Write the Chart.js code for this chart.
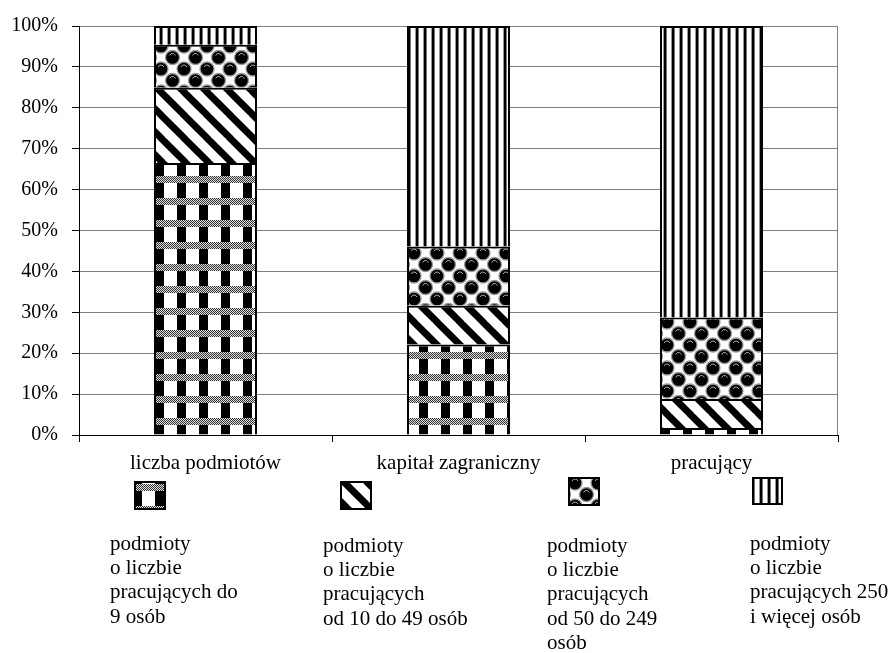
<!DOCTYPE html>
<html>
<head>
<meta charset="utf-8">
<script src="https://cdn.jsdelivr.net/npm/chart.js@4"></script>
<style>
html,body{margin:0;padding:0;background:#fff;}
canvas{display:block;}
</style>
</head>
<body>
<canvas id="c" width="890" height="653"></canvas>
<script>
// ---- data ----
const categories = ['liczba podmiotów', 'kapitał zagraniczny', 'pracujący'];
const seriesDo9 = [66.5, 22.1, 1.7];
const series10to49 = [18.4, 9.5, 7.1];
const series50to249 = [10.5, 14.5, 19.9];
const series250plus = [4.6, 53.9, 71.3];
const yTicks = [0, 10, 20, 30, 40, 50, 60, 70, 80, 90, 100];
const legendLines = [
  ['podmioty', 'o liczbie', 'pracujących do', '9 osób'],
  ['podmioty', 'o liczbie', 'pracujących', 'od 10 do 49 osób'],
  ['podmioty', 'o liczbie', 'pracujących', 'od 50 do 249', 'osób'],
  ['podmioty', 'o liczbie', 'pracujących 250', 'i więcej osób']
];

const FONT = "'Liberation Serif', 'Times New Roman', serif";

// ---- patterns ----
function makeTile(w, h, draw) {
  const c = document.createElement('canvas');
  c.width = w; c.height = h;
  const g = c.getContext('2d');
  g.fillStyle = '#fff';
  g.fillRect(0, 0, w, h);
  draw(g, w, h);
  return document.getElementById('c').getContext('2d').createPattern(c, 'repeat');
}
const patCheck = makeTile(22, 22, (g) => {
  for (let y = 0; y < 7; y++) for (let x = 0; x < 22; x++) {
    g.fillStyle = ((x + y) % 2 === 0) ? '#333' : '#ddd';
    g.fillRect(x, y, 1, 1);
  }
  g.fillStyle = '#000';
  g.fillRect(1, 7, 9, 15);
});
const patDiag = makeTile(23, 23, (g) => {
  g.strokeStyle = '#000';
  g.lineWidth = 7;
  for (let k = -1; k <= 1; k++) {
    g.beginPath();
    g.moveTo(k * 23 - 2, -2);
    g.lineTo(k * 23 + 25, 25);
    g.stroke();
  }
});
const patBalls = makeTile(23, 23, (g) => {
  const pts = [[0, 0], [23, 0], [0, 23], [23, 23], [11.5, 11.5]];
  pts.forEach(([x, y]) => {
    g.beginPath();
    g.arc(x, y, 7, 0, Math.PI * 2);
    g.fillStyle = '#000';
    g.fill();
    g.lineWidth = 1.3;
    g.strokeStyle = '#9a9a9a';
    g.stroke();
    g.beginPath();
    g.arc(x, y - 1, 3, Math.PI * 1.1, Math.PI * 1.9);
    g.strokeStyle = '#aaa';
    g.lineWidth = 1;
    g.stroke();
  });
});
const patVert = makeTile(8, 4, (g) => {
  g.fillStyle = '#000'; g.fillRect(0, 0, 2, 4);
  g.fillStyle = '#777'; g.fillRect(2, 0, 1, 4);
  g.fillStyle = '#999'; g.fillRect(7, 0, 1, 4);
});
const patterns = [patCheck, patDiag, patBalls, patVert];

// ---- legend drawing plugin ----
const legendIcons = [[134, 481, 32, 29], [340, 481, 32, 29], [568, 477, 32, 29], [752, 477, 31, 28]];
const legendText = [[110, 550], [323, 552], [547, 552], [750, 550]];

const decor = {
  id: 'decor',
  afterDraw(chart) {
    const ctx = chart.ctx;
    const a = chart.chartArea;
    ctx.save();
    ctx.strokeStyle = '#808080';
    ctx.lineWidth = 1;
    ctx.beginPath();
    ctx.moveTo(Math.round(a.right) - 0.5, a.top);
    ctx.lineTo(Math.round(a.right) - 0.5, a.bottom);
    ctx.stroke();
    legendIcons.forEach((r, i) => {
      ctx.fillStyle = patterns[i];
      ctx.fillRect(r[0], r[1], r[2], r[3]);
      ctx.strokeStyle = '#000';
      ctx.lineWidth = 2;
      ctx.strokeRect(r[0] + 1, r[1] + 1, r[2] - 2, r[3] - 2);
    });
    ctx.fillStyle = '#000';
    ctx.font = '21px ' + FONT;
    ctx.textAlign = 'left';
    ctx.textBaseline = 'alphabetic';
    legendLines.forEach((lines, i) => {
      lines.forEach((t, j) => {
        ctx.fillText(t, legendText[i][0], legendText[i][1] + j * 24.2);
      });
    });
    ctx.restore();
  }
};

const seriesAll = [seriesDo9, series10to49, series50to249, series250plus];
const datasets = seriesAll.map((d, i) => ({
  label: legendLines[i].join(' '),
  data: d,
  backgroundColor: patterns[i],
  borderColor: '#000',
  borderWidth: 2,
  barPercentage: 0.407,
  categoryPercentage: 1.0
}));

new Chart(document.getElementById('c'), {
  type: 'bar',
  data: { labels: categories, datasets },
  options: {
    responsive: false,
    animation: false,
    devicePixelRatio: 1,
    layout: { padding: { left: 0, right: 52, top: 24, bottom: 0 } },
    plugins: { legend: { display: false }, tooltip: { enabled: false } },
    scales: {
      x: {
        stacked: true,
        grid: { display: true, drawOnChartArea: false, drawTicks: true, tickLength: 7, color: '#000', tickColor: '#000', offset: true },
        border: { display: true, color: '#000', width: 1 },
        ticks: { color: '#000', font: { family: FONT, size: 21 }, padding: 9, maxRotation: 0, autoSkip: false },
        afterFit(s) { s.height = 218; }
      },
      y: {
        stacked: true,
        min: 0, max: 100,
        afterBuildTicks(s) { s.ticks = yTicks.map(v => ({ value: v })); },
        grid: { color: '#808080', tickColor: '#000', tickLength: 7, drawTicks: true, lineWidth: 1 },
        border: { display: true, color: '#000', width: 1 },
        ticks: { color: '#000', font: { family: FONT, size: 20 }, padding: 14, callback: v => v + '%' },
        afterFit(s) { s.width = 79; }
      }
    }
  },
  plugins: [decor]
});
</script>
</body>
</html>
